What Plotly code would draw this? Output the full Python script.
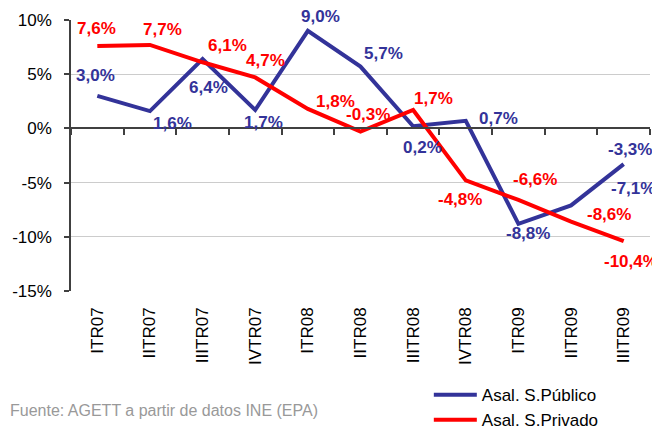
import plotly.graph_objects as go

categories = ["ITR07", "IITR07", "IIITR07", "IVTR07", "ITR08", "IITR08",
              "IIITR08", "IVTR08", "ITR09", "IITR09", "IIITR09"]
publico = [3.0, 1.6, 6.4, 1.7, 9.0, 5.7, 0.2, 0.7, -8.8, -7.1, -3.3]
privado = [7.6, 7.7, 6.1, 4.7, 1.8, -0.3, 1.7, -4.8, -6.6, -8.6, -10.4]
y_ticks = [-15, -10, -5, 0, 5, 10]
y_tick_labels = ["-15%", "-10%", "-5%", "0%", "5%", "10%"]

# label offsets in pixels (right, down)
pub_dx = [-2, 23, 6, 8, 13, 23, 9, 33, 10, 62, 6]
pub_dy = [-19, 13, 29, 14, -13, -12, 22, -1, 11, -16, -14]
priv_dx = [-1, 13, 25, 10, 28, 7, 20, -6, 17, 38, 7]
priv_dy = [-17, -14, -16, -16, -6, -16, -10, 20, -19, -6, 21]

BLUE = "#333399"
RED = "#FF0000"
FONT = "Liberation Sans, Arial, sans-serif"

def fmt(v):
    return f"{v:.1f}".replace(".", ",") + "%"

fig = go.Figure()
fig.add_trace(go.Scatter(x=categories, y=publico, mode="lines", name="Asal. S.Público",
                         line=dict(color=BLUE, width=4), hoverinfo="skip"))
fig.add_trace(go.Scatter(x=categories, y=privado, mode="lines", name="Asal. S.Privado",
                         line=dict(color=RED, width=4), hoverinfo="skip"))
# dummy trace for the zero-line category axis
fig.add_trace(go.Scatter(x=categories, y=[None] * len(categories), xaxis="x2",
                         showlegend=False, hoverinfo="skip", mode="lines"))

ann = []
for vals, dxs, dys, col in [(publico, pub_dx, pub_dy, BLUE), (privado, priv_dx, priv_dy, RED)]:
    for c, v, dx, dy in zip(categories, vals, dxs, dys):
        ann.append(dict(x=c, y=v, xref="x", yref="y", text="<b>" + fmt(v) + "</b>",
                        showarrow=False, xshift=dx, yshift=-dy + 1,
                        font=dict(family=FONT, size=17, color=col)))
ann.append(dict(x=-0.108, y=-0.44, xref="paper", yref="paper", xanchor="left", yanchor="middle",
                text="Fuente: AGETT a partir de datos INE (EPA)", showarrow=False,
                font=dict(family=FONT, size=16, color="#999999")))

fig.update_layout(
    width=652, height=421,
    margin=dict(l=63, r=10, t=12, b=138, autoexpand=False),
    paper_bgcolor="white", plot_bgcolor="white",
    font=dict(family=FONT, size=17, color="#000000"),
    showlegend=True,
    legend=dict(x=0.618, y=-0.318, xanchor="left", yanchor="top",
                font=dict(family=FONT, size=17, color="#000000"),
                itemwidth=43, tracegroupgap=0, bgcolor="rgba(0,0,0,0)"),
    annotations=ann,
    xaxis=dict(type="category", categoryorder="array", categoryarray=categories,
               range=[-0.5, len(categories) - 0.5], showgrid=False, showline=False,
               zeroline=False, ticks="", tickangle=-90, ticklabelstandoff=12,
               automargin=False,
               tickfont=dict(family=FONT, size=17, color="#000000")),
    xaxis2=dict(type="category", categoryorder="array", categoryarray=categories,
                range=[-0.5, len(categories) - 0.5], overlaying="x", anchor="free",
                position=0.6, side="bottom", showline=True, linecolor="#404040", linewidth=1.5,
                ticks="outside", tickson="boundaries", ticklen=6, tickcolor="#404040",
                tickwidth=1.5, showticklabels=False, showgrid=False, zeroline=False,
                automargin=False),
    yaxis=dict(range=[-15, 10], tickmode="array", tickvals=y_ticks, ticktext=y_tick_labels,
               showgrid=True, automargin=False, ticklabelstandoff=9,
               gridcolor="#cccccc", gridwidth=1, zeroline=False, showline=True,
               linecolor="#404040", linewidth=1.5, ticks="outside", ticklen=5,
               tickcolor="#404040", tickwidth=1.5,
               tickfont=dict(family=FONT, size=17, color="#000000")),
)

fig.write_html("out.html")
